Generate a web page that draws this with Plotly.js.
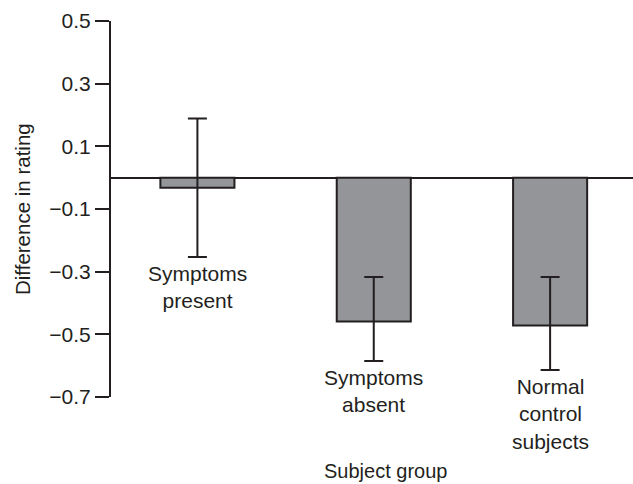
<!DOCTYPE html>
<html>
<head>
<meta charset="utf-8">
<script src="https://cdn.plot.ly/plotly-3.0.1.min.js"></script>
<style>html,body{margin:0;padding:0;background:#fff;}#chart{width:633px;height:484px;}</style>
</head>
<body>
<div id="chart"></div>
<script>
// Data
const groups = ["Symptoms present", "Symptoms absent", "Normal control subjects"];
const groupLabels = ["Symptoms<br>present", "Symptoms<br>absent", "Normal<br>control<br>subjects"];
const meanDiff = [-0.032, -0.459, -0.472];
const errPlus = [0.221, 0.142, 0.155];
const errMinus = [0.221, 0.126, 0.142];
const yTickVals = [0.5, 0.3, 0.1, -0.1, -0.3, -0.5, -0.7];
const yTickText = ["0.5", "0.3", "0.1", "\u22120.1", "\u22120.3", "\u22120.5", "\u22120.7"];

const ink = "#231f20";
const fam = "Liberation Sans, Arial, sans-serif";
const xs = groups.map((g, i) => i);

const trace = {
  type: "bar",
  x: xs,
  y: meanDiff,
  marker: { color: "#939598", line: { color: ink, width: 2 } },
  error_y: { type: "data", symmetric: false, array: errPlus, arrayminus: errMinus,
             color: ink, thickness: 2, width: 9.5 },
  hoverinfo: "none"
};

const annotations = groupLabels.map((t, i) => ({
  x: i, y: meanDiff[i] - errMinus[i], xref: "x", yref: "y",
  text: t, showarrow: false, xanchor: "center", yanchor: "top", yshift: -3,
  font: { family: fam, size: 21, color: ink }
}));
annotations.push({
  x: 0.525, y: 0, xref: "paper", yref: "paper", yanchor: "top", yshift: -61,
  text: "Subject group", showarrow: false,
  font: { family: fam, size: 20, color: ink }
});
annotations.push({
  x: 0, xref: "paper", xshift: -89, y: 0.5, yref: "paper",
  text: "Difference in rating", textangle: -90, showarrow: false,
  xanchor: "center", yanchor: "middle",
  font: { family: fam, size: 20.5, color: ink }
});

const layout = {
  width: 633, height: 484,
  margin: { l: 111, r: 0, t: 21, b: 87, pad: 0 },
  paper_bgcolor: "#fff", plot_bgcolor: "#fff",
  showlegend: false,
  bargap: 0.58,
  font: { family: fam, color: ink, size: 20 },
  xaxis: { range: [-0.49, 2.47], showgrid: false, zeroline: false, showline: false,
           showticklabels: false, ticks: "", fixedrange: true },
  yaxis: { range: [-0.7, 0.5], tickvals: yTickVals, ticktext: yTickText,
           ticks: "outside", ticklen: 14, tickwidth: 2, tickcolor: ink,
           showline: true, linewidth: 2, linecolor: ink, showgrid: false,
           zeroline: true, zerolinecolor: ink, zerolinewidth: 2,
           tickfont: { family: fam, size: 21, color: ink }, fixedrange: true },
  annotations: annotations
};

Plotly.newPlot("chart", [trace], layout, { displayModeBar: false, staticPlot: true });
</script>
</body>
</html>
